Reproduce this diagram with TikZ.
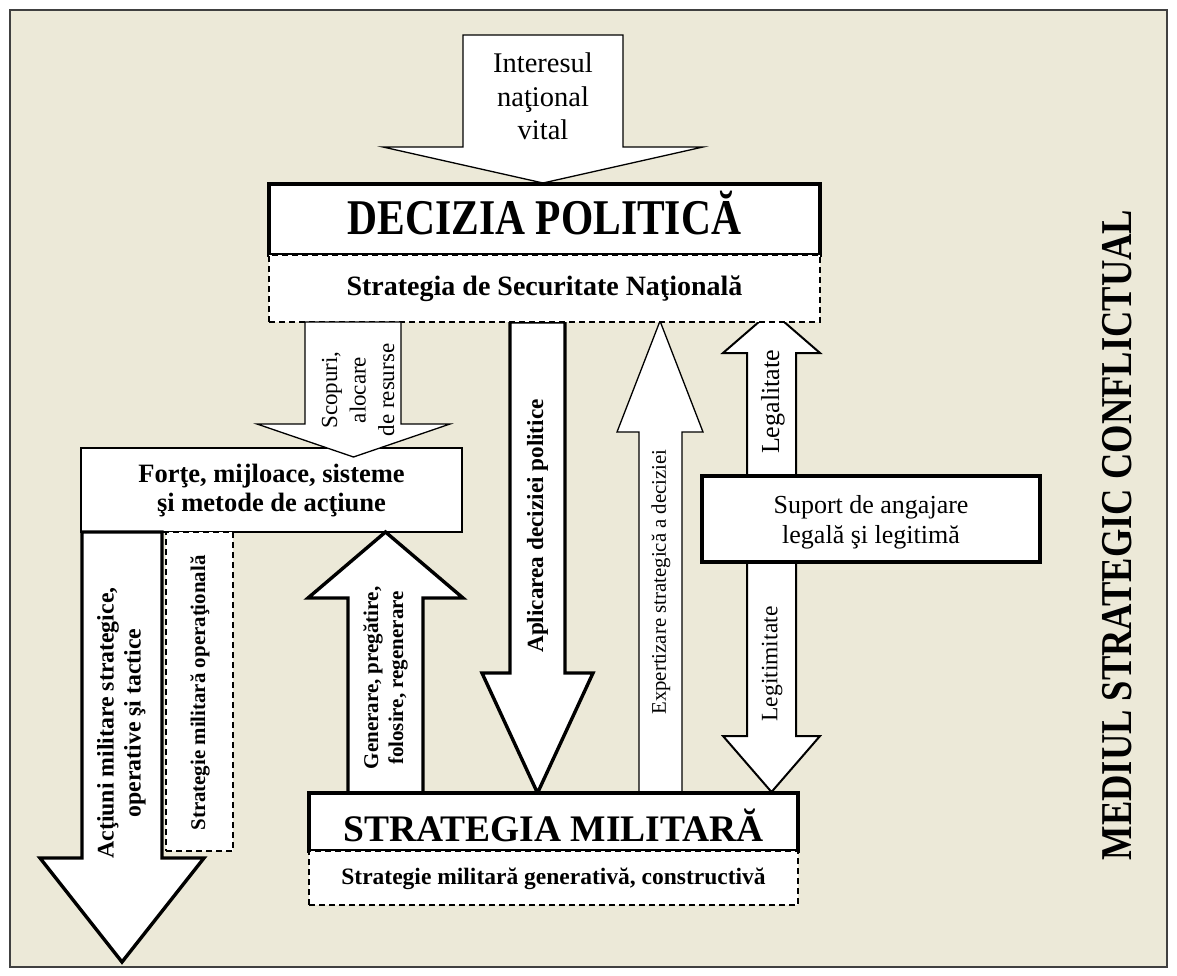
\documentclass[tikz,border=0pt]{standalone}
\usepackage{fontspec}
\setmainfont{Liberation Serif}
\usepackage{graphicx}
\definecolor{bgbeige}{HTML}{ECE9D8}
\definecolor{framegray}{HTML}{404040}
\tikzset{
  thinln/.style={draw=black, fill=white, line width=1.3pt, line join=miter},
  medln/.style={draw=black, fill=white, line width=2pt, line join=miter},
  thickln/.style={draw=black, fill=white, line width=3.4pt, line join=miter},
  dashbox/.style={rectangle, inner sep=0pt, outer sep=0pt, draw=black, fill=white, line width=1.3pt, dash pattern=on 6pt off 4pt},
  plainbox/.style={rectangle, inner sep=0pt, outer sep=0pt, thinln},
  heavybox/.style={rectangle, inner sep=0pt, outer sep=0pt, thickln},
  lbl/.style={inner sep=0pt, outer sep=0pt, text=black, align=center},
}
\newcommand{\fsz}[2]{\fontsize{#1}{#2}\selectfont}
\begin{document}
\begin{tikzpicture}[x=1pt,y=-1pt]
\useasboundingbox (0,0) rectangle (1177,976);
\fill[white] (0,0) rectangle (1177,976);
\draw[fill=bgbeige, draw=framegray, line width=1.2pt] (10,10) rectangle (1167,967);

% top arrow
\draw[thinln] (463,35) -- (623,35) -- (623,147) -- (703,147) -- (543,183) -- (383,147) -- (463,147) -- cycle;
\node[lbl, font=\fsz{28.5}{33.5}] (interes) at (543,96.6) {Interesul\\naţional\\vital};

\node[heavybox, minimum width=551pt, minimum height=71pt] (decizia) at (544.5,219.5) {};

% arrows hanging from SSN
\draw[thickln] (510,322) -- (510,673) -- (482,673) -- (537.5,793) -- (593,673) -- (565,673) -- (565,322) -- cycle;
\draw[thinln] (639,793) -- (639,432) -- (617,432) -- (660,321) -- (703,432) -- (682,432) -- (682,793) -- cycle;
\draw[medln] (747,353) -- (723,353) -- (771.5,311) -- (820,353) -- (796,353) -- (796,736) -- (820,736) -- (771.5,792) -- (723,736) -- (747,736) -- cycle;

\node[dashbox, minimum width=551pt, minimum height=67pt] (ssn) at (544.5,288.5) {};

\node[plainbox, minimum width=381pt, minimum height=84pt] (forte) at (271.5,490) {};
\draw[thinln] (305,322) -- (305,424) -- (257,424) -- (353.5,457) -- (450,424) -- (401,424) -- (401,322) -- cycle;

\draw[thickln] (348,793) -- (348,598) -- (308,598) -- (385.5,532) -- (463,598) -- (423,598) -- (423,793) -- cycle;
\draw[thickln] (82,532) -- (82,858) -- (40,858) -- (122,962) -- (204,858) -- (162,858) -- (162,532) -- cycle;

\node[dashbox, minimum width=67pt, minimum height=319pt] (opbox) at (199.5,691.5) {};
\node[heavybox, minimum width=338pt, minimum height=86pt] (suport) at (871,519) {};
\node[heavybox, minimum width=489pt, minimum height=58pt] (strat) at (553.5,822) {};
\node[dashbox, minimum width=489pt, minimum height=54pt] (genbox) at (553.5,878) {};

% texts
\node[lbl, font=\bfseries\fsz{50}{55}, anchor=base] (tdec) at (544.5,235) {\scalebox{0.83}[1]{DECIZIA POLITICĂ}};
\node[lbl, font=\bfseries\fsz{28}{32}, anchor=base] (tssn) at (544.5,295) {Strategia de Securitate Naţională};
\node[lbl, font=\fsz{23}{28.5}, rotate=90] (tscop) at (358,390) {Scopuri,\\alocare\\de resurse};
\node[lbl, font=\bfseries\fsz{26.5}{29}] (tforte) at (271.5,491) {Forţe, mijloace, sisteme\\şi metode de acţiune};
\node[lbl, font=\bfseries\fsz{21}{25}, rotate=90] (tgen) at (385.5,678) {Generare, pregătire,\\folosire, regenerare};
\node[lbl, font=\bfseries\fsz{23.2}{27}, rotate=90] (tapl) at (537.5,526) {Aplicarea deciziei politice};
\node[lbl, font=\fsz{20.8}{24}, rotate=90] (texp) at (661,582) {Expertizare strategică a deciziei};
\node[lbl, font=\fsz{26}{30}, rotate=90] (tlegal) at (773,402) {Legalitate};
\node[lbl, font=\fsz{23.5}{27}, rotate=90] (tlegit) at (772,664) {Legitimitate};
\node[lbl, font=\fsz{26}{30}] (tsup) at (871,522) {Suport de angajare\\legală şi legitimă};
\node[lbl, font=\bfseries\fsz{23.8}{27}, rotate=90] (tact) at (121.5,723) {Acţiuni militare strategice,\\operative şi tactice};
\node[lbl, font=\bfseries\fsz{20.9}{24}, rotate=90] (topn) at (200,693) {Strategie militară operaţională};
\node[lbl, font=\bfseries\fsz{37.5}{40}, anchor=base] (tstrat) at (553.5,841) {STRATEGIA MILITARĂ};
\node[lbl, font=\bfseries\fsz{23.5}{27}, anchor=base] (tgenb) at (553.5,884) {Strategie militară generativă, constructivă};
\node[lbl, font=\bfseries\fsz{44}{48}, rotate=90] (tmed) at (1117,535) {\scalebox{0.83}[1]{MEDIUL STRATEGIC CONFLICTUAL}};
\end{tikzpicture}
\end{document}
